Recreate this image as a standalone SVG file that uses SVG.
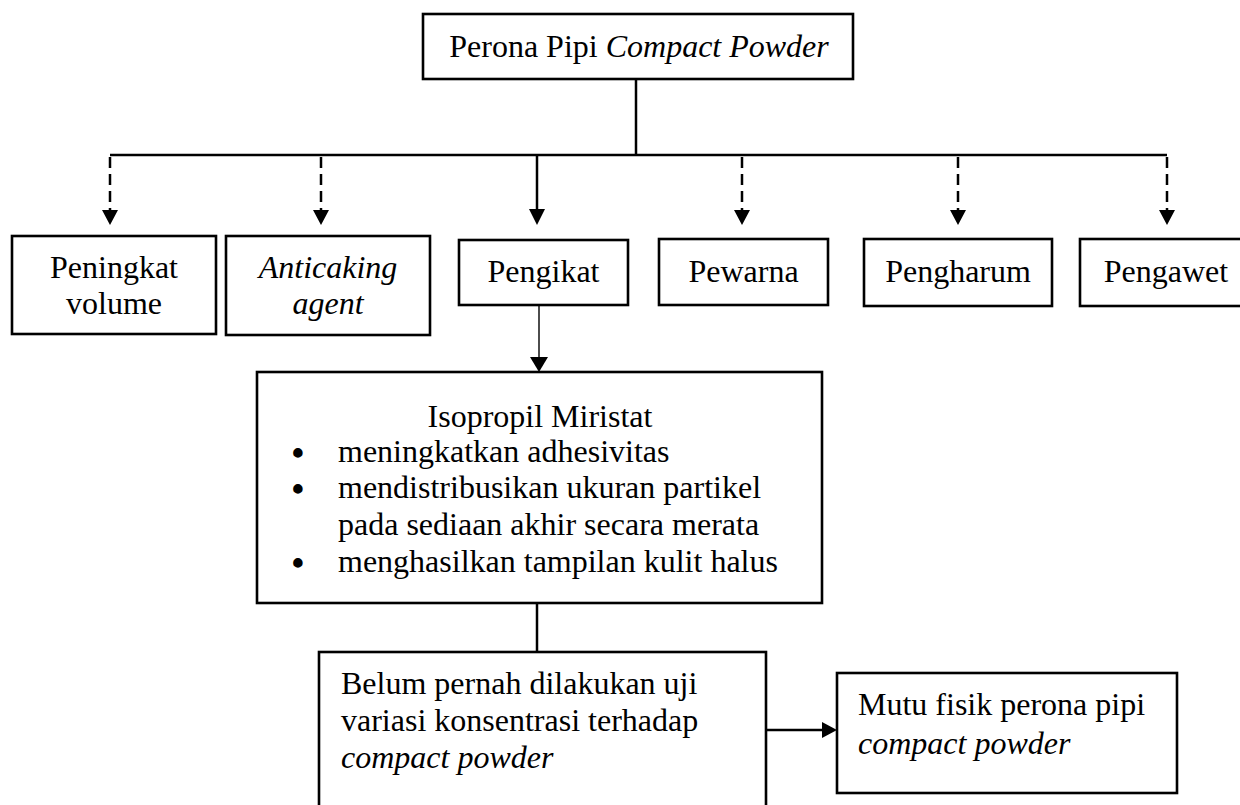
<svg xmlns="http://www.w3.org/2000/svg" width="1240" height="805" viewBox="0 0 1240 805">
<style>
.box{fill:#fff;stroke:#000;stroke-width:2.6}
.t{font-family:"Liberation Serif","Times New Roman",serif;font-size:32px;fill:#000}
.c{text-anchor:middle}
.i{font-style:italic}
.b{font-size:35px;font-weight:bold}
.ln{fill:none;stroke:#000;stroke-width:2.5}
.dash{fill:none;stroke:#000;stroke-width:2.5;stroke-dasharray:11 6}
.thin{fill:none;stroke:#000;stroke-width:1.4}
.ah{fill:#000;stroke:none}
</style>
<rect width="1240" height="805" fill="#fff"/>
<g id="connectors">
<line class="ln" x1="636" y1="79" x2="636" y2="155"/>
<line class="ln" x1="110" y1="155" x2="1167" y2="155"/>
<line class="dash" x1="110" y1="157" x2="110" y2="210"/>
<polygon class="ah" points="102,210 118,210 110,225"/>
<line class="dash" x1="321" y1="157" x2="321" y2="210"/>
<polygon class="ah" points="313,210 329,210 321,225"/>
<line class="ln" x1="537" y1="155" x2="537" y2="210"/>
<polygon class="ah" points="529,209 545,209 537,225"/>
<line class="dash" x1="742" y1="157" x2="742" y2="210"/>
<polygon class="ah" points="734,210 750,210 742,225"/>
<line class="dash" x1="958" y1="157" x2="958" y2="210"/>
<polygon class="ah" points="950,210 966,210 958,225"/>
<line class="dash" x1="1167" y1="157" x2="1167" y2="210"/>
<polygon class="ah" points="1159,210 1175,210 1167,225"/>
<line class="thin" x1="539" y1="305" x2="539" y2="358"/>
<polygon class="ah" points="530,357 548,357 539,372"/>
<line class="ln" x1="537" y1="603" x2="537" y2="652"/>
<line class="ln" x1="766" y1="730" x2="824" y2="730"/>
<polygon class="ah" points="822,722 837,730 822,738"/>
</g>
<g id="node-perona">
<rect class="box" x="423" y="14" width="430" height="65"/>
<text class="t c" x="639" y="57">Perona Pipi <tspan class="i">Compact Powder</tspan></text>
</g>
<g id="node-peningkat">
<rect class="box" x="12" y="236" width="204" height="98"/>
<text class="t c" x="114" y="278">Peningkat</text>
<text class="t c" x="114" y="314">volume</text>
</g>
<g id="node-anticaking">
<rect class="box" x="226" y="236" width="204" height="99"/>
<text class="t c i" x="328" y="278">Anticaking</text>
<text class="t c i" x="328" y="314">agent</text>
</g>
<g id="node-pengikat">
<rect class="box" x="459" y="240" width="169" height="65"/>
<text class="t c" x="543.5" y="282">Pengikat</text>
</g>
<g id="node-pewarna">
<rect class="box" x="659" y="239" width="169" height="66"/>
<text class="t c" x="743.5" y="282">Pewarna</text>
</g>
<g id="node-pengharum">
<rect class="box" x="864" y="239" width="188" height="67"/>
<text class="t c" x="958" y="282">Pengharum</text>
</g>
<g id="node-pengawet">
<rect class="box" x="1080" y="239" width="172" height="67"/>
<text class="t c" x="1166" y="282">Pengawet</text>
</g>
<g id="node-isopropil">
<rect class="box" x="257" y="372" width="565" height="231"/>
<text class="t c" x="540" y="427">Isopropil Miristat</text>
<text class="t c b" x="298" y="465">•</text>
<text class="t" x="338" y="462">meningkatkan adhesivitas</text>
<text class="t c b" x="298" y="501">•</text>
<text class="t" x="338" y="498">mendistribusikan ukuran partikel</text>
<text class="t" x="338" y="535">pada sediaan akhir secara merata</text>
<text class="t c b" x="298" y="575">•</text>
<text class="t" x="338" y="572">menghasilkan tampilan kulit halus</text>
</g>
<g id="node-belum">
<rect class="box" x="319" y="652" width="447" height="200"/>
<text class="t" x="341" y="694">Belum pernah dilakukan uji</text>
<text class="t" x="341" y="731">variasi konsentrasi terhadap</text>
<text class="t i" x="341" y="768">compact powder</text>
</g>
<g id="node-mutu">
<rect class="box" x="837" y="673" width="340" height="120"/>
<text class="t" x="858" y="715">Mutu fisik perona pipi</text>
<text class="t i" x="858" y="754">compact powder</text>
</g>
</svg>
